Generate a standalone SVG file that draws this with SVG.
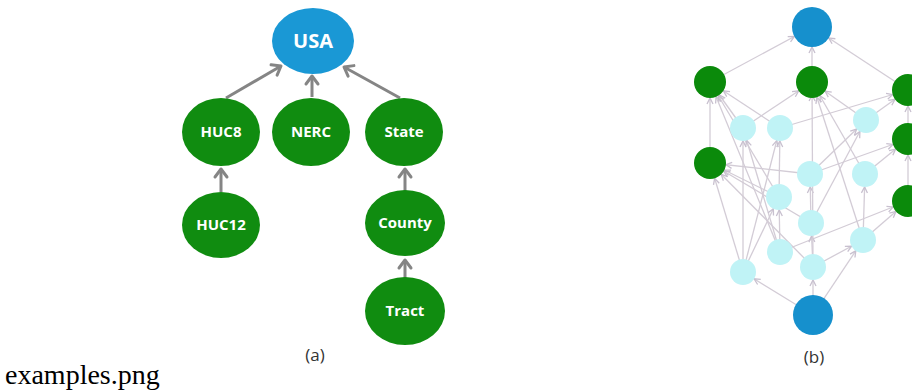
<svg xmlns="http://www.w3.org/2000/svg" width="912" height="392" viewBox="0 0 912 392">
<style>
.lbl{font-family:"Open Sans","Liberation Sans",sans-serif;font-weight:bold;fill:#ffffff;text-anchor:middle}
.ga{fill:#108c10}
.bl{fill:#1a98d5}
.arr{stroke:#858585;stroke-width:3;fill:none;marker-end:url(#chev)}
.e{stroke:#d3ccd6;stroke-width:1.3;fill:none}
.eg{marker-end:url(#mg)}
.ec{marker-end:url(#mc)}
.eb{marker-end:url(#mb)}
.cy{fill:#c0f3f6}
.gb{fill:#0b8a0b}
.bb{fill:#1690cd}
.cap{font-family:"Open Sans","Liberation Sans",sans-serif;font-size:17px;fill:#333333;text-anchor:middle}
</style>
<defs>
<marker id="chev" markerUnits="userSpaceOnUse" viewBox="-10 -7 12 14" markerWidth="12" markerHeight="14" refX="0" refY="0" orient="auto" overflow="visible">
<path d="M-8,-6 L0,0 L-8,6" stroke="#858585" stroke-width="3" fill="none" stroke-linecap="round" stroke-linejoin="round"/>
</marker>
<marker id="mg" markerUnits="userSpaceOnUse" viewBox="0 -6 40 12" markerWidth="40" markerHeight="12" refX="36" refY="0" orient="auto" overflow="visible">
<path d="M14,-3 L20,0 L14,3" stroke="#c8c0cf" stroke-width="1.3" fill="none"/>
</marker>
<marker id="mc" markerUnits="userSpaceOnUse" viewBox="0 -6 40 12" markerWidth="40" markerHeight="12" refX="33" refY="0" orient="auto" overflow="visible">
<path d="M14,-3 L20,0 L14,3" stroke="#c8c0cf" stroke-width="1.3" fill="none"/>
</marker>
<marker id="mb" markerUnits="userSpaceOnUse" viewBox="0 -6 40 12" markerWidth="40" markerHeight="12" refX="40" refY="0" orient="auto" overflow="visible">
<path d="M14,-3 L20,0 L14,3" stroke="#c8c0cf" stroke-width="1.3" fill="none"/>
</marker>
</defs>
<rect width="912" height="392" fill="#ffffff"/>

<g id="connectors-a">
<line class="arr" x1="226" y1="98" x2="281" y2="66"/>
<line class="arr" x1="312" y1="97" x2="312" y2="76"/>
<line class="arr" x1="400" y1="98" x2="344" y2="67"/>
<line class="arr" x1="221" y1="192" x2="221" y2="169"/>
<line class="arr" x1="405" y1="191" x2="405" y2="169"/>
<line class="arr" x1="405" y1="278" x2="405" y2="260"/>
</g>

<g id="USA"><ellipse class="bl" cx="313" cy="41" rx="41" ry="33"/><text class="lbl" x="313" y="48" font-size="20">USA</text></g>
<g id="HUC8"><ellipse class="ga" cx="221" cy="132" rx="39" ry="34"/><text class="lbl" x="221" y="137" font-size="15">HUC8</text></g>
<g id="NERC"><ellipse class="ga" cx="311" cy="132" rx="39" ry="34"/><text class="lbl" x="311" y="137" font-size="15">NERC</text></g>
<g id="State"><ellipse class="ga" cx="404" cy="132" rx="39" ry="34"/><text class="lbl" x="404" y="137" font-size="15">State</text></g>
<g id="HUC12"><ellipse class="ga" cx="221" cy="225" rx="39" ry="33"/><text class="lbl" x="221" y="230" font-size="15">HUC12</text></g>
<g id="County"><ellipse class="ga" cx="405" cy="223" rx="40" ry="33"/><text class="lbl" x="405" y="228" font-size="15">County</text></g>
<g id="Tract"><ellipse class="ga" cx="405" cy="311" rx="40" ry="34"/><text class="lbl" x="405" y="316" font-size="15">Tract</text></g>
<text class="cap" x="315" y="361">(a)</text>

<g id="connectors-b">
<line class="e eb" x1="710" y1="82" x2="812" y2="27"/>
<line class="e eb" x1="812" y1="82" x2="812" y2="27"/>
<line class="e eb" x1="908" y1="90" x2="812" y2="27"/>
<line class="e eg" x1="710" y1="163" x2="710" y2="82"/>
<line class="e eg" x1="908" y1="139" x2="908" y2="90"/>
<line class="e eg" x1="908" y1="201" x2="908" y2="139"/>
<line class="e eg" x1="743" y1="128" x2="710" y2="82"/>
<line class="e eg" x1="743" y1="128" x2="812" y2="82"/>
<line class="e eg" x1="780" y1="128" x2="710" y2="82"/>
<line class="e eg" x1="780" y1="128" x2="908" y2="90"/>
<line class="e eg" x1="866" y1="120" x2="812" y2="82"/>
<line class="e eg" x1="866" y1="120" x2="908" y2="90"/>
<line class="e eg" x1="810" y1="174" x2="710" y2="163"/>
<line class="e ec" x1="810" y1="174" x2="866" y2="120"/>
<line class="e eg" x1="810" y1="174" x2="908" y2="139"/>
<line class="e eg" x1="865" y1="174" x2="812" y2="82"/>
<line class="e eg" x1="865" y1="174" x2="908" y2="139"/>
<line class="e eg" x1="779" y1="197" x2="710" y2="82"/>
<line class="e ec" x1="779" y1="197" x2="780" y2="128"/>
<line class="e eg" x1="779" y1="197" x2="710" y2="163"/>
<line class="e eg" x1="811" y1="223" x2="710" y2="163"/>
<line class="e ec" x1="811" y1="223" x2="810" y2="174"/>
<line class="e ec" x1="811" y1="223" x2="866" y2="120"/>
<line class="e eg" x1="863" y1="240" x2="812" y2="82"/>
<line class="e ec" x1="863" y1="240" x2="865" y2="174"/>
<line class="e eg" x1="863" y1="240" x2="908" y2="201"/>
<line class="e eg" x1="780" y1="252" x2="710" y2="82"/>
<line class="e ec" x1="780" y1="252" x2="779" y2="197"/>
<line class="e eg" x1="780" y1="252" x2="908" y2="201"/>
<line class="e ec" x1="780" y1="252" x2="743" y2="128"/>
<line class="e eg" x1="743" y1="272" x2="710" y2="163"/>
<line class="e ec" x1="743" y1="272" x2="743" y2="128"/>
<line class="e ec" x1="743" y1="272" x2="780" y2="128"/>
<line class="e ec" x1="743" y1="272" x2="779" y2="197"/>
<line class="e eg" x1="813" y1="267" x2="710" y2="163"/>
<line class="e ec" x1="813" y1="267" x2="811" y2="223"/>
<line class="e ec" x1="813" y1="267" x2="863" y2="240"/>
<line class="e ec" x1="813" y1="267" x2="812" y2="82"/>
<line class="e ec" x1="813" y1="315" x2="743" y2="272"/>
<line class="e ec" x1="813" y1="315" x2="813" y2="267"/>
<line class="e ec" x1="813" y1="315" x2="863" y2="240"/>
</g>

<g id="b-top"><circle class="bb" cx="812" cy="27" r="20"/></g>
<g id="b-g1"><circle class="gb" cx="710" cy="82" r="16"/></g>
<g id="b-g2"><circle class="gb" cx="812" cy="82" r="16"/></g>
<g id="b-g3"><circle class="gb" cx="908" cy="90" r="16"/></g>
<g id="b-g4"><circle class="gb" cx="710" cy="163" r="16"/></g>
<g id="b-g5"><circle class="gb" cx="908" cy="139" r="16"/></g>
<g id="b-g6"><circle class="gb" cx="908" cy="201" r="16"/></g>
<g id="b-cA"><circle class="cy" cx="743" cy="128" r="13"/></g>
<g id="b-cB"><circle class="cy" cx="780" cy="128" r="13"/></g>
<g id="b-cC"><circle class="cy" cx="866" cy="120" r="13"/></g>
<g id="b-cD"><circle class="cy" cx="810" cy="174" r="13"/></g>
<g id="b-cE"><circle class="cy" cx="865" cy="174" r="13"/></g>
<g id="b-cF"><circle class="cy" cx="779" cy="197" r="13"/></g>
<g id="b-cG"><circle class="cy" cx="811" cy="223" r="13"/></g>
<g id="b-cH"><circle class="cy" cx="863" cy="240" r="13"/></g>
<g id="b-cI"><circle class="cy" cx="780" cy="252" r="13"/></g>
<g id="b-cJ"><circle class="cy" cx="743" cy="272" r="13"/></g>
<g id="b-cK"><circle class="cy" cx="813" cy="267" r="13"/></g>
<g id="b-bottom"><circle class="bb" cx="813" cy="315" r="20"/></g>
<text class="cap" x="814" y="363">(b)</text>

<text x="5" y="384" font-family="Liberation Serif, serif" font-size="28" fill="#000000">examples.png</text>
</svg>
